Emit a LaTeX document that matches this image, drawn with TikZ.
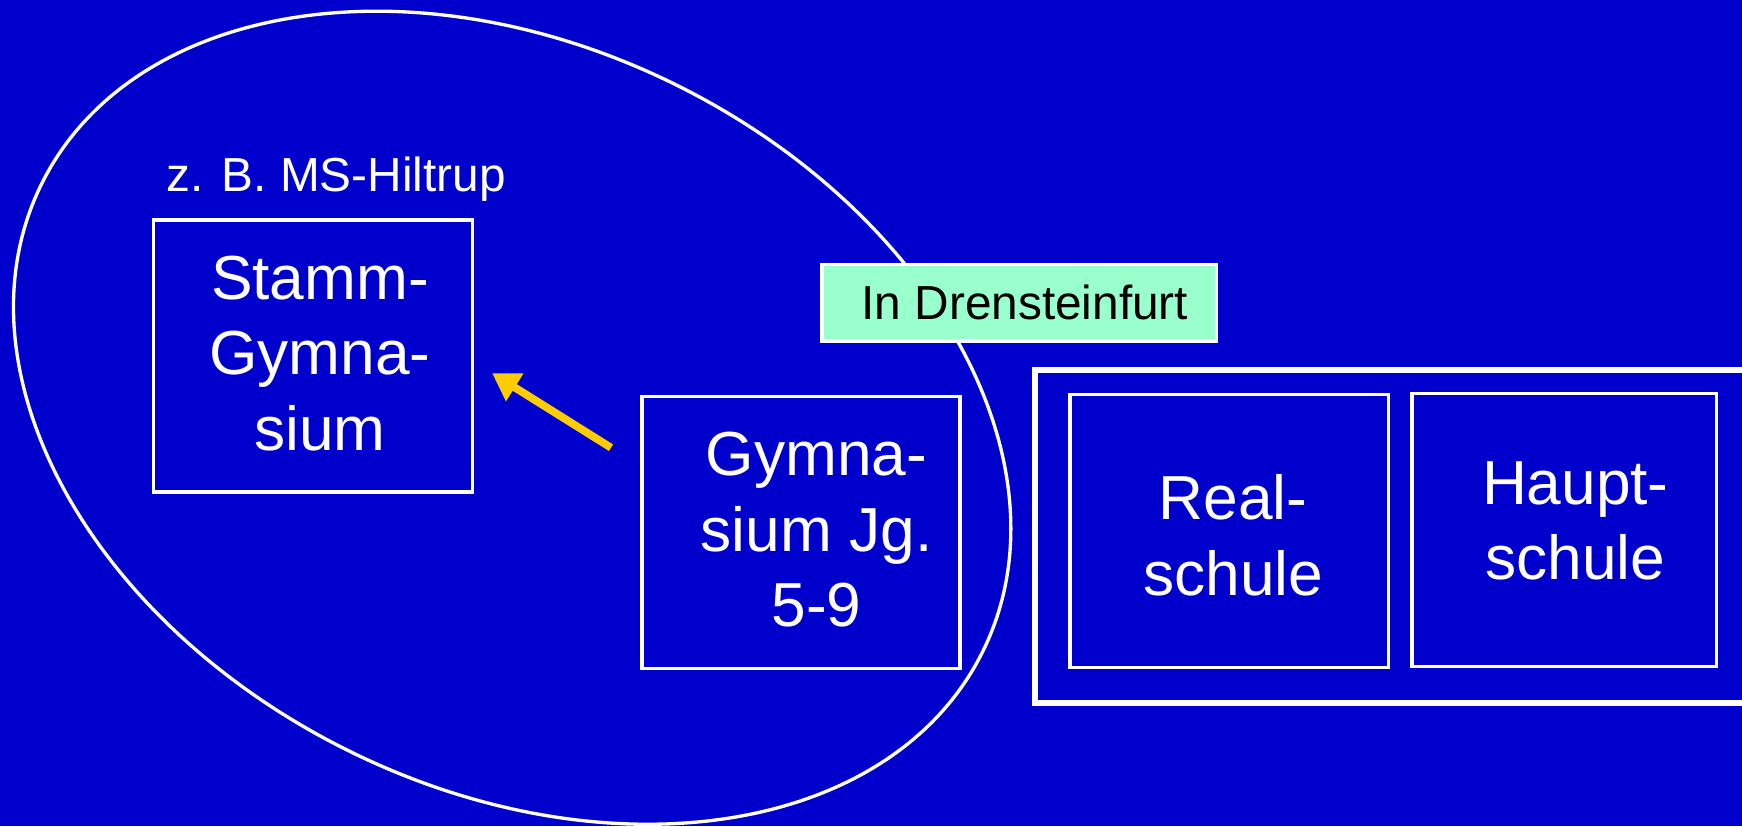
\documentclass[tikz,border=0pt]{standalone}
\usepackage{fontspec}
\setmainfont{Liberation Sans}
\usetikzlibrary{arrows.meta}
\definecolor{bgblue}{HTML}{0000CC}
\definecolor{arrowyellow}{HTML}{FFCC00}
\definecolor{labelgreen}{HTML}{99FFCC}
\tikzset{
  schoolbox/.style={draw=white, line width=3pt, rectangle, inner sep=0pt},
  groupbox/.style={draw=white, line width=5.5pt},
  bigtext/.style={text=white, align=center, inner sep=0pt, font=\fontsize{56}{68}\selectfont},
  smalltext/.style={text=white, inner sep=0pt, font=\fontsize{43}{50}\selectfont},
  greenlabel/.style={draw=white, line width=3pt, fill=labelgreen, text=black, inner sep=0pt, font=\fontsize{43}{50}\selectfont},
  yellowarrow/.style={draw=arrowyellow, line width=7pt, -{Triangle[length=24pt,width=28pt]}},
  region/.style={draw=white, line width=3pt}
}
\begin{document}
\begin{tikzpicture}[x=1pt,y=-1pt]
\fill[bgblue] (0,0) rectangle (1568,743.5);
\useasboundingbox (0,0) rectangle (1568,743.5);
% region ellipse
\draw[region, rotate around={-26.5:(461,376)}] (461,376) ellipse [x radius=473, y radius=334];
% nodes
\node[schoolbox, minimum width=287pt, minimum height=245pt] (stamm) at (281.5,320.5) {};
\node[bigtext] (stammtxt) at (288,318) {Stamm-\\Gymna-\\sium};
\node[smalltext, anchor=base west] (hiltrup) at (150,172) {z. B. MS-Hiltrup};
\node[schoolbox, minimum width=286pt, minimum height=245pt] (gym) at (721,479.5) {};
\node[bigtext] (gymtxt) at (735,477) {Gymna-\\sium Jg.\\5-9};
\node[greenlabel, minimum width=355pt, minimum height=69pt] (drens) at (917.5,272.5) {\hspace{10pt}In Drensteinfurt};
\draw[groupbox] (1600,333) -- (932,333) -- (932,633) -- (1600,633);
\node[schoolbox, minimum width=287pt, minimum height=246pt] (real) at (1106.5,478) {};
\node[bigtext] (realtxt) at (1110,482) {Real-\\schule};
\node[schoolbox, minimum width=274pt, minimum height=246pt] (haupt) at (1408,477) {};
\node[bigtext] (haupttxt) at (1418,469) {Haupt-\\schule};
% arrow
\coordinate (astart) at (550,403);
\coordinate (aend) at (443,336);
\draw[yellowarrow] (astart) -- (aend);
\end{tikzpicture}
\end{document}
